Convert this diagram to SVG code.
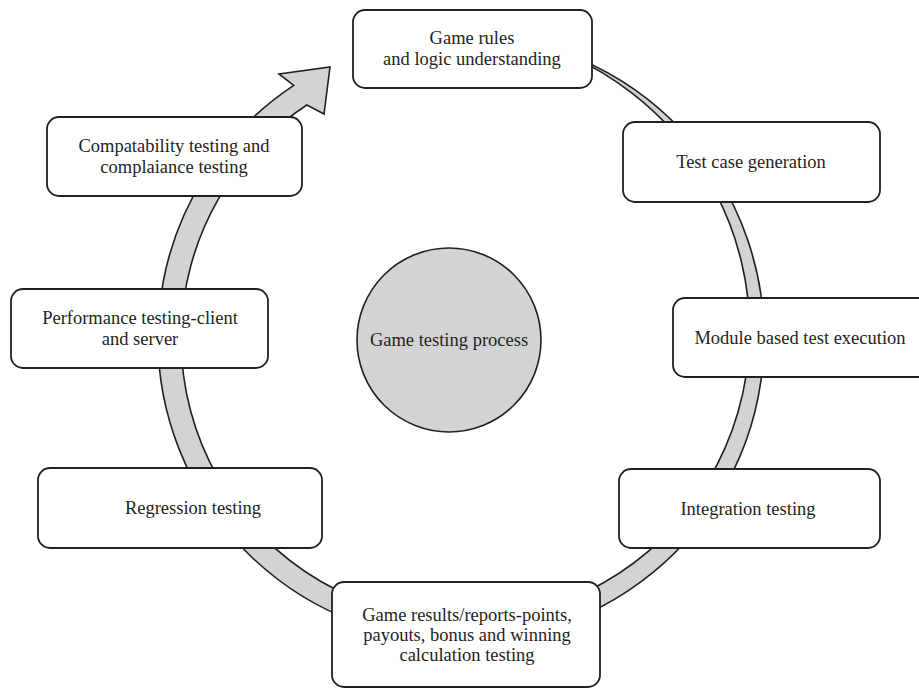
<svg xmlns="http://www.w3.org/2000/svg" width="919" height="688" viewBox="0 0 919 688">
<style>
.box{fill:#ffffff;stroke:#231f20;stroke-width:1.8}
.band{fill:#d1d3d4;stroke:#231f20;stroke-width:1.6;stroke-linejoin:miter}
.hub{fill:#d1d3d4;stroke:#231f20;stroke-width:1.6}
text{font-family:"Liberation Serif","Times New Roman",serif;font-size:18.5px;fill:#231f20;text-anchor:middle}
</style>
<rect width="919" height="688" fill="#ffffff"/>
<g id="connectors">
<path class="band" d="M 564.63 53.27 A 303 303 0 1 1 293.76 85.33 L 279 74 L 330 67 L 324 114 L 306.79 105.01 A 279.4 279.4 0 0 0 263.38 140.38 A 279.5 279.5 0 0 0 218.89 198.21 A 279.6 279.6 0 0 0 190.83 265.61 A 279.8 279.8 0 0 0 181.14 338 A 280 280 0 0 0 190.49 410.48 A 280.2 280.2 0 0 0 218.27 478.14 A 280.4 280.4 0 0 0 262.61 536.39 A 280.7 280.7 0 0 0 320.54 581.27 A 281.1 281.1 0 0 0 388.19 609.74 A 281.6 281.6 0 0 0 461 619.84 A 282.2 282.2 0 0 0 534.11 610.85 A 282.9 282.9 0 0 0 602.62 583.29 A 283.7 283.7 0 0 0 661.94 538.94 A 284.8 284.8 0 0 0 708.10 480.67 A 286 286 0 0 0 737.96 412.21 A 287.6 287.6 0 0 0 749.44 338 A 289.5 289.5 0 0 0 741.63 262.80 A 291.8 291.8 0 0 0 714.82 191.46 A 294.6 294.6 0 0 0 670.45 128.55 A 297.4 297.4 0 0 0 632.30 93.36 A 299.6 299.6 0 0 0 602.11 72.61 A 301.8 301.8 0 0 0 564.63 53.27 Z"/>
</g>
<g id="hub">
<circle class="hub" cx="449" cy="340" r="92"/>
<text x="449" y="346">Game testing process</text>
</g>
<g id="node-rules">
<rect class="box" x="353" y="10" width="239" height="78" rx="12"/>
<text x="472" y="44">Game rules</text>
<text x="472" y="65">and logic understanding</text>
</g>
<g id="node-testcase">
<rect class="box" x="623" y="122" width="257" height="80" rx="12"/>
<text x="751" y="168">Test case generation</text>
</g>
<g id="node-module">
<rect class="box" x="673" y="298" width="260" height="79" rx="12"/>
<text x="800" y="344">Module based test execution</text>
</g>
<g id="node-integration">
<rect class="box" x="619" y="469" width="261" height="79" rx="12"/>
<text x="748" y="515">Integration testing</text>
</g>
<g id="node-results">
<rect class="box" x="332" y="582" width="268" height="105" rx="12"/>
<text x="467" y="621">Game results/reports-points,</text>
<text x="467" y="641">payouts, bonus and winning</text>
<text x="467" y="661">calculation testing</text>
</g>
<g id="node-regression">
<rect class="box" x="38" y="468" width="284" height="80" rx="12"/>
<text x="193" y="514">Regression testing</text>
</g>
<g id="node-performance">
<rect class="box" x="11" y="289" width="257" height="79" rx="12"/>
<text x="140" y="324">Performance testing-client</text>
<text x="140" y="345">and server</text>
</g>
<g id="node-compat">
<rect class="box" x="47" y="117" width="255" height="79" rx="12"/>
<text x="174" y="152">Compatability testing and</text>
<text x="174" y="173">complaiance testing</text>
</g>
</svg>
